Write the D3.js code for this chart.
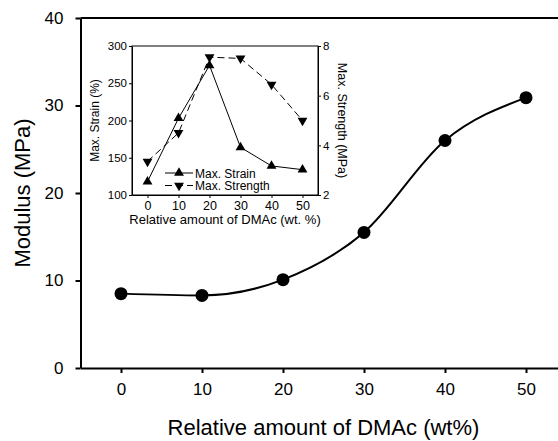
<!DOCTYPE html>
<html>
<head>
<meta charset="utf-8">
<script src="https://cdn.jsdelivr.net/npm/d3@7"></script>
<style>
  body { margin: 0; background: #fff; }
  svg { font-family: Arial, "Liberation Sans", sans-serif; }
</style>
</head>
<body>
<svg width="558" height="441"></svg>
<script>
// main chart data
var dmac = [0, 10, 20, 30, 40, 50];
var modulus = [8.5, 8.3, 10.1, 15.5, 26.0, 30.9];
var modTicks = [0, 10, 20, 30, 40];

// inset data
var strain = [118, 203, 274, 164, 139, 134];
var strength = [3.35, 4.5, 7.55, 7.5, 6.45, 5.0];
var strainTicks = [100, 150, 200, 250, 300];
var strengthTicks = [2, 4, 6, 8];

var svg = d3.select("svg");

var x = d3.scaleLinear().domain([-5, 55]).range([80.5, 566.5]);
var y = d3.scaleLinear().domain([0, 40]).range([368, 18]);

// main axes
var gy = svg.append("g")
    .attr("transform", "translate(" + x(-5) + ",0)")
    .call(d3.axisLeft(y).tickValues(modTicks).tickSize(5).tickSizeOuter(0).tickPadding(12));
var gx = svg.append("g")
    .attr("transform", "translate(0," + y(0) + ")")
    .call(d3.axisBottom(x).tickValues(dmac).tickSize(5).tickSizeOuter(0).tickPadding(10));
[gx, gy].forEach(function(g) {
    g.select(".domain").attr("stroke-width", 2);
    g.selectAll(".tick line").attr("stroke-width", 2);
    g.selectAll("text").attr("font-size", 17).attr("font-family", null).attr("fill", "#000");
});

svg.append("line")
    .attr("x1", x(-5)).attr("x2", x(55))
    .attr("y1", y(40)).attr("y2", y(40))
    .attr("stroke", "#000").attr("stroke-width", 2);

svg.append("text")
    .attr("transform", "translate(30," + y(20) + ") rotate(-90)")
    .attr("text-anchor", "middle")
    .attr("font-size", 22)
    .text("Modulus (MPa)");

svg.append("text")
    .attr("x", x(25)).attr("y", 435)
    .attr("text-anchor", "middle")
    .attr("font-size", 22)
    .text("Relative amount of DMAc (wt%)");

var line = d3.line()
    .x(function(d, i) { return x(dmac[i]); })
    .y(function(d) { return y(d); })
    .curve(d3.curveMonotoneX);

svg.append("path")
    .attr("d", line(modulus))
    .attr("fill", "none").attr("stroke", "#000").attr("stroke-width", 2);

svg.append("g").selectAll("circle")
    .data(modulus)
    .enter()
  .append("circle")
    .attr("cx", function(d, i) { return x(dmac[i]); })
    .attr("cy", function(d) { return y(d); })
    .attr("r", 6.5)
    .attr("fill", "#000");

// inset
var xi = d3.scaleLinear().domain([-5, 55]).range([132, 318]);
var yl = d3.scaleLinear().domain([100, 300]).range([195, 46]);
var yr = d3.scaleLinear().domain([2, 8]).range([195, 46]);

var inset = svg.append("g");

inset.append("rect")
    .attr("x", xi(-5)).attr("y", yl(300))
    .attr("width", xi(55) - xi(-5)).attr("height", yl(100) - yl(300))
    .attr("fill", "#fff").attr("stroke", "#000").attr("stroke-width", 1);

var ax1 = inset.append("g")
    .attr("transform", "translate(" + xi(-5) + ",0)")
    .call(d3.axisLeft(yl).tickValues(strainTicks).tickSize(3).tickSizeOuter(0).tickPadding(2));
var ax2 = inset.append("g")
    .attr("transform", "translate(" + xi(55) + ",0)")
    .call(d3.axisRight(yr).tickValues(strengthTicks).tickFormat(d3.format("d")).tickSize(3).tickSizeOuter(0).tickPadding(2));
var ax3 = inset.append("g")
    .attr("transform", "translate(0," + yl(100) + ")")
    .call(d3.axisBottom(xi).tickValues(dmac).tickSize(3).tickSizeOuter(0).tickPadding(3));
[ax1, ax2].forEach(function(g) {
    g.selectAll("text").attr("font-size", 11.5).attr("font-family", null).attr("fill", "#000");
});
ax3.selectAll("text").attr("font-size", 12.5).attr("font-family", null).attr("fill", "#000");

inset.append("text")
    .attr("transform", "translate(99," + yl(200) + ") rotate(-90)")
    .attr("text-anchor", "middle")
    .attr("font-size", 12)
    .text("Max. Strain (%)");

inset.append("text")
    .attr("transform", "translate(338," + yl(200) + ") rotate(90)")
    .attr("text-anchor", "middle")
    .attr("font-size", 12.5)
    .text("Max. Strength (MPa)");

inset.append("text")
    .attr("x", xi(25)).attr("y", 224)
    .attr("text-anchor", "middle")
    .attr("font-size", 13)
    .text("Relative amount of DMAc (wt. %)");

var lineStrain = d3.line()
    .x(function(d, i) { return xi(dmac[i]); })
    .y(function(d) { return yl(d); });
var lineStrength = d3.line()
    .x(function(d, i) { return xi(dmac[i]); })
    .y(function(d) { return yr(d); });

inset.append("path")
    .attr("d", lineStrength(strength))
    .attr("fill", "none").attr("stroke", "#000").attr("stroke-width", 1)
    .attr("stroke-dasharray", "7,4");
inset.append("path")
    .attr("d", lineStrain(strain))
    .attr("fill", "none").attr("stroke", "#000").attr("stroke-width", 1);

var tri = d3.symbol().type(d3.symbolTriangle).size(42);

inset.append("g").selectAll("path")
    .data(strain)
    .enter()
  .append("path")
    .attr("d", tri)
    .attr("transform", function(d, i) { return "translate(" + xi(dmac[i]) + "," + yl(d) + ")"; })
    .attr("fill", "#000");

inset.append("g").selectAll("path")
    .data(strength)
    .enter()
  .append("path")
    .attr("d", tri)
    .attr("transform", function(d, i) { return "translate(" + xi(dmac[i]) + "," + yr(d) + ") rotate(180)"; })
    .attr("fill", "#000");

// legend
var legend = [
    { name: "Max. Strain", dash: null, rot: 0 },
    { name: "Max. Strength", dash: "7,4", rot: 180 }
];
var lg = inset.selectAll(".lg")
    .data(legend)
    .enter()
  .append("g")
    .attr("transform", function(d, i) { return "translate(165," + (173 + i * 12.5) + ")"; });
lg.append("line")
    .attr("x1", 0).attr("x2", 28)
    .attr("stroke", "#000").attr("stroke-width", 1)
    .attr("stroke-dasharray", function(d) { return d.dash; });
lg.append("path")
    .attr("d", tri)
    .attr("transform", function(d) { return "translate(14,0) rotate(" + d.rot + ")"; })
    .attr("fill", "#000");
lg.append("text")
    .attr("x", 30).attr("y", 4.5)
    .attr("font-size", 12)
    .text(function(d) { return d.name; });
</script>
</body>
</html>
